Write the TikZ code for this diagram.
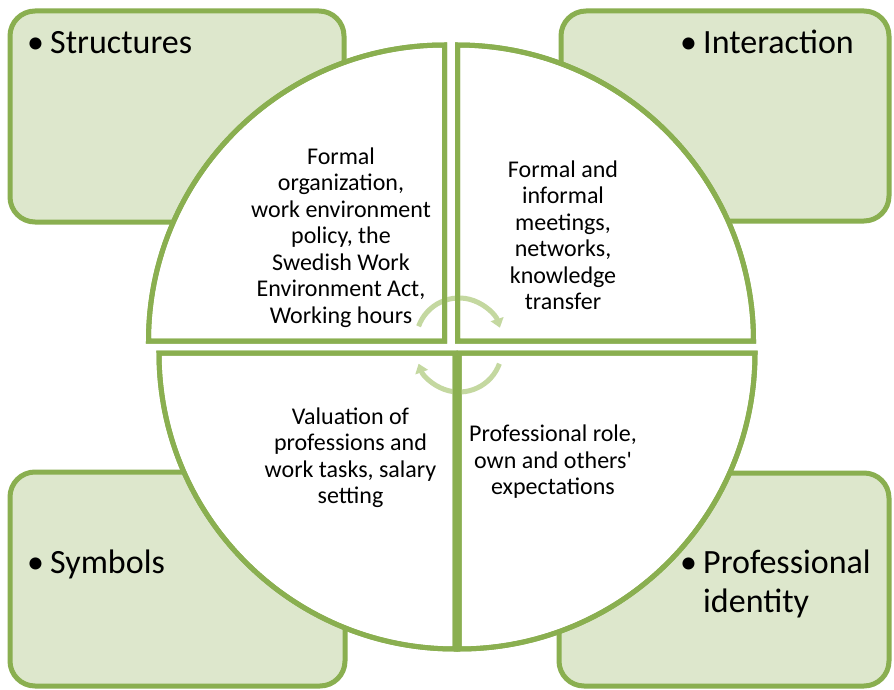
\documentclass[tikz,border=0pt]{standalone}
\usepackage{fontspec}
\setmainfont{Carlito}
\usetikzlibrary{arrows.meta}
\definecolor{grn}{RGB}{138,175,80}
\definecolor{boxfill}{RGB}{221,231,204}
\definecolor{arcgrn}{RGB}{196,216,160}
\begin{document}
\begin{tikzpicture}[x=1pt,y=-1pt,
  box/.style={draw=grn,fill=boxfill,line width=5pt,rounded corners=25pt},
  quadfill/.style={fill=white},
  quadline/.style={draw=grn,line width=5pt},
  cyc/.style={draw=arcgrn,line width=5pt,-{Triangle[width=13pt,length=9pt]}},
  inner/.style={align=center,inner sep=0pt,font=\fontsize{24}{26.5}\selectfont},
  label/.style={anchor=base west,inner sep=0pt,align=left,font=\fontsize{34}{39}\selectfont}]
\fill[white] (0,0) rectangle (894,690);
\useasboundingbox (0,0) rectangle (894,690);
% corner boxes
\draw[box] (10,11) rectangle (344,222);
\draw[box] (561,11) rectangle (889,221);
\draw[box] (10,472) rectangle (345,686);
\draw[box] (559,473) rectangle (889,686);
% quadrant shapes
\def\qTL{(444.5,341) -- ++(-296,0) arc[start angle=180,end angle=270,radius=296] -- cycle}
\def\qTR{(457.5,341) -- ++(0,-296) arc[start angle=270,end angle=360,radius=296] -- cycle}
\def\qBR{(459,353) -- ++(296,0) arc[start angle=0,end angle=90,radius=296] -- cycle}
\def\qBL{(455,353) -- ++(0,296) arc[start angle=90,end angle=180,radius=296] -- cycle}
\path[quadfill,quadline] \qTL;
\path[quadfill,quadline] \qTR;
\path[quadfill,quadline] \qBR;
\path[quadfill,quadline] \qBL;
% circular arrows
\coordinate (ctop) at (459,341);
\coordinate (cbot) at (459,349);
\draw[cyc] ([shift={(200:43)}]ctop) arc[start angle=200,end angle=342,radius=43];
\draw[cyc] ([shift={(20:43)}]cbot) arc[start angle=20,end angle=160,radius=43];
% redraw quadrant borders over the arrows
\path[quadline] \qTL;
\path[quadline] \qTR;
\path[quadline] \qBR;
\path[quadline] \qBL;
% quadrant texts
\node[inner] (tl) at (341,237.5) {Formal\\organization,\\work environment\\policy, the\\Swedish Work\\Environment Act,\\Working hours};
\node[inner] (tr) at (563,235.5) {Formal and\\informal\\meetings,\\networks,\\knowledge\\transfer};
\node[inner] (bl) at (350.5,457.5) {Valuation of\\professions and\\work tasks, salary\\setting};
\node[inner] (br) at (553,462) {Professional role,\\own and others\textquotesingle\\expectations};
% box labels
\node[label] (structures) at (27,54) {\makebox[23pt][l]{•}Structures};
\node[label] (interaction) at (680,54) {\makebox[23pt][l]{•}Interaction};
\node[label] (symbols) at (27,573) {\makebox[23pt][l]{•}Symbols};
\node[label] (identity) at (680,612) {\makebox[23pt][l]{•}Professional\\\hspace*{23pt}identity};
\end{tikzpicture}
\end{document}
